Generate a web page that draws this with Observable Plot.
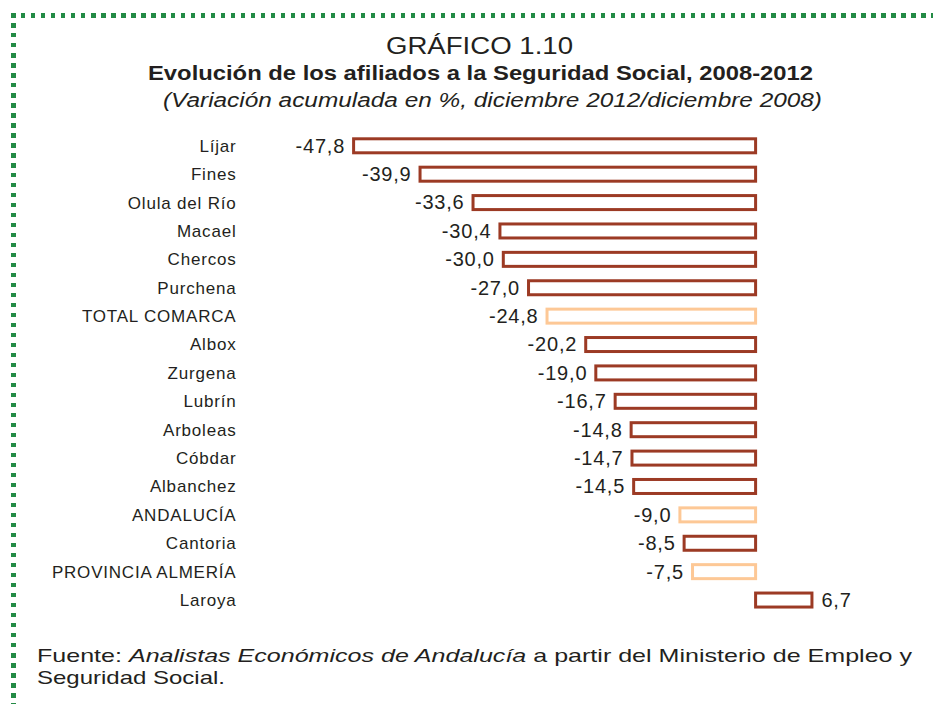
<!DOCTYPE html>
<html>
<head>
<meta charset="utf-8">
<script src="https://cdn.jsdelivr.net/npm/d3@7"></script>
<script src="https://cdn.jsdelivr.net/npm/@observablehq/plot@0.6"></script>
<style>
  html, body { margin: 0; padding: 0; background: #fff; }
  body { width: 933px; height: 704px; position: relative; overflow: hidden;
         font-family: "Liberation Sans", Arial, sans-serif; color: #231f20; }
  .txt { position: absolute; white-space: nowrap; line-height: 1; transform-origin: 0 0; }
  #borderTop { position: absolute; left: 11px; top: 13px; width: 922px; height: 4.5px;
    background: repeating-linear-gradient(to right, #238b45 0 4.5px, transparent 4.5px 10px); }
  #borderLeft { position: absolute; left: 11px; top: 13px; width: 4.5px; height: 691px;
    background: repeating-linear-gradient(to bottom, #238b45 0 4.5px, transparent 4.5px 10px); }
  #chart { position: absolute; left: 0; top: 120px; }
</style>
</head>
<body>
<div id="borderTop"></div>
<div id="borderLeft"></div>
<div id="chart"></div>
<script>
// ---- data ----
const names = ["Líjar", "Fines", "Olula del Río", "Macael", "Chercos", "Purchena",
  "TOTAL COMARCA", "Albox", "Zurgena", "Lubrín", "Arboleas", "Cóbdar", "Albanchez",
  "ANDALUCÍA", "Cantoria", "PROVINCIA ALMERÍA", "Laroya"];
const values = [-47.8, -39.9, -33.6, -30.4, -30.0, -27.0, -24.8, -20.2, -19.0, -16.7,
  -14.8, -14.7, -14.5, -9.0, -8.5, -7.5, 6.7];
const groups = ["municipio", "municipio", "municipio", "municipio", "municipio", "municipio",
  "agregado", "municipio", "municipio", "municipio", "municipio", "municipio", "municipio",
  "agregado", "municipio", "agregado", "municipio"];
const groupColors = { municipio: "#9c3a24", agregado: "#fdc896" };

const titleText = "GRÁFICO 1.10";
const subtitleText = "Evolución de los afiliados a la Seguridad Social, 2008-2012";
const subtitle2Text = "(Variación acumulada en %, diciembre 2012/diciembre 2008)";

const data = names.map((n, i) => ({ name: n, value: values[i], group: groups[i] }));
const fmt = v => v.toFixed(1).replace(".", ",");

// ---- text helpers ----
function addText(html, opts) {
  const el = document.createElement("div");
  el.className = "txt";
  el.innerHTML = html;
  el.style.fontSize = opts.size + "px";
  if (opts.weight) el.style.fontWeight = opts.weight;
  if (opts.italic) el.style.fontStyle = "italic";
  el.style.top = (opts.cy - 0.49 * opts.size) + "px";
  document.body.appendChild(el);
  const w = el.getBoundingClientRect().width;
  const s = opts.width / w;
  let left = opts.left;
  if (opts.center !== undefined) left = opts.center - opts.width / 2;
  el.style.left = left + "px";
  el.style.transform = `scaleX(${s})`;
  return el;
}

addText(titleText, { size: 23, cy: 46.5, center: 479.5, width: 187 });
addText(subtitleText, { size: 20, weight: "bold", cy: 72.5, left: 148, width: 665 });
addText(subtitle2Text, { size: 20, italic: true, cy: 100, left: 163, width: 659 });
addText("Fuente: <i>Analistas Económicos de Andalucía</i> a partir del Ministerio de Empleo y",
  { size: 19, cy: 655, left: 37, width: 875 });
addText("Seguridad Social.", { size: 19, cy: 677.5, left: 37, width: 188 });

// ---- chart ----
const step = 28.39, bandw = 14, firstCenter = 25.8;
const padIn = 1 - bandw / step;
const r0 = firstCenter - bandw / 2;
const r1 = r0 + step * (names.length - padIn);

const marginLeft = 335.1, marginRight = 933 - 839.7;

const chart = Plot.plot({
  width: 933,
  height: 500,
  marginLeft, marginRight, marginTop: 0, marginBottom: 0,
  style: { fontFamily: "Liberation Sans, Arial, sans-serif", color: "#231f20", background: "transparent" },
  x: { domain: [-50, 10], axis: null },
  y: { domain: names, range: [r0, r1], paddingInner: padIn, paddingOuter: 0, round: false, axis: null },
  color: { type: "identity" },
  marks: [
    Plot.barX(data, { x: "value", y: "name", fill: "white",
      stroke: d => groupColors[d.group], strokeWidth: 3 }),
    Plot.text(data.filter(d => d.value < 0), { x: "value", y: "name", text: d => fmt(d.value),
      textAnchor: "end", dx: -9, fontSize: 20, fill: "#231f20" }),
    Plot.text(data.filter(d => d.value >= 0), { x: "value", y: "name", text: d => fmt(d.value),
      textAnchor: "start", dx: 9, fontSize: 20, fill: "#231f20" }),
    Plot.text(names, { y: d => d, text: d => d, frameAnchor: "left", textAnchor: "end",
      dx: 236 - marginLeft, fontSize: 17, fill: "#231f20" })
  ]
});
document.getElementById("chart").appendChild(chart);
// slight letter spacing to match the wider reference typeface
chart.querySelectorAll("text").forEach(t => t.style.letterSpacing = "0.8px");
</script>
</body>
</html>
